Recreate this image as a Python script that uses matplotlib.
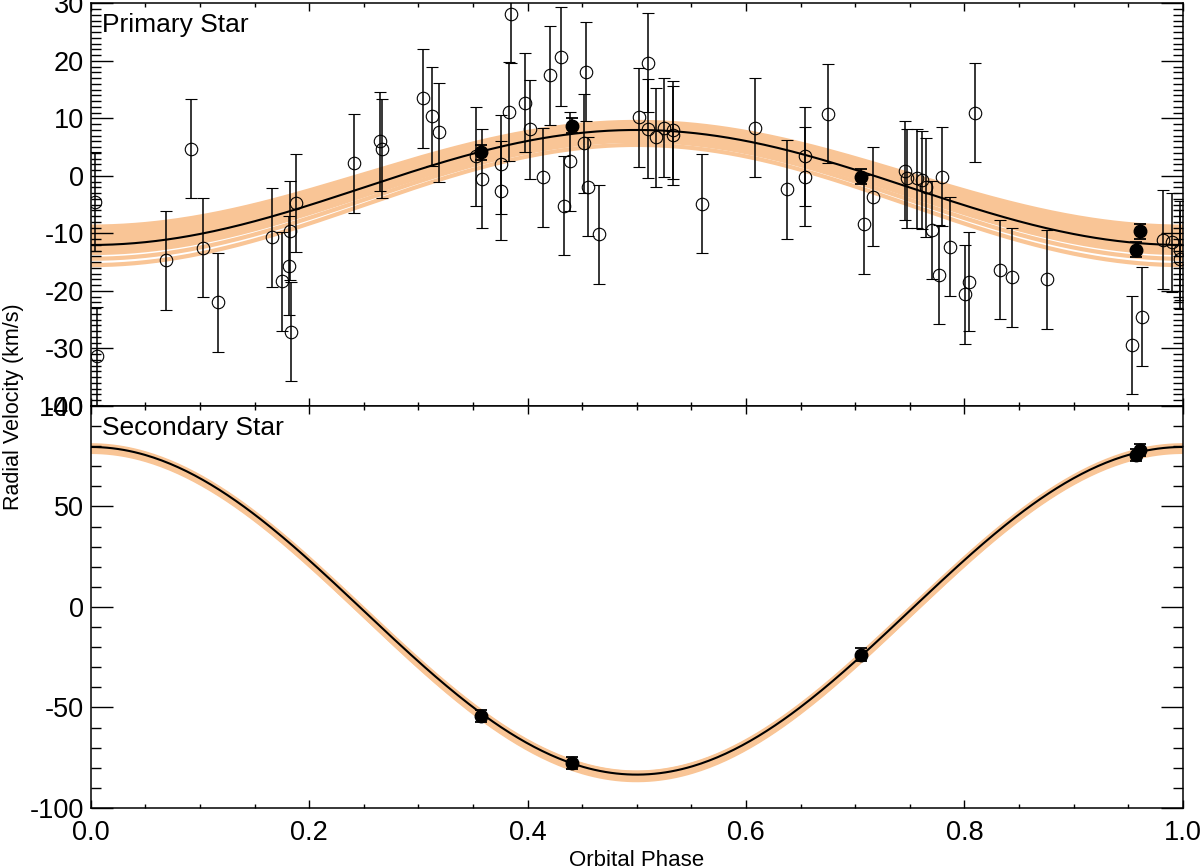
import numpy as np
import matplotlib
matplotlib.use("Agg")
import matplotlib.pyplot as plt
from matplotlib.ticker import MultipleLocator

plt.rcParams['font.family'] = ['Liberation Sans', 'DejaVu Sans']
plt.rcParams['axes.unicode_minus'] = False

# primary star, open circles (phase, rv, error)
prim_phase = [0.004, 0.006, 0.069, 0.092, 0.103, 0.117, 0.166, 0.175, 0.1825, 0.182,
              0.1834, 0.1877, 0.2414, 0.265, 0.2665, 0.3046, 0.3125, 0.319, 0.3528, 0.358,
              0.3754, 0.3754, 0.385, 0.3834, 0.3977, 0.4023, 0.4145, 0.4209, 0.431, 0.4337,
              0.439, 0.4533, 0.4517, 0.4557, 0.4655, 0.5024, 0.510, 0.510, 0.5177, 0.5253,
              0.5335, 0.5335, 0.560, 0.6086, 0.638, 0.654, 0.654, 0.6755, 0.7084, 0.7167,
              0.746, 0.7472, 0.7564, 0.761, 0.765, 0.7707, 0.7768, 0.780, 0.7866, 0.801,
              0.8046, 0.8098, 0.833, 0.844, 0.8754, 0.954, 0.9624, 0.9822, 0.9905, 0.9975,
              0.9975]
prim_rv = [-4.5, -31.3, -14.7, 4.7, -12.5, -22.0, -10.7, -18.3, -9.5, -15.6,
           -27.1, -4.7, 2.2, 6.0, 4.7, 13.5, 10.4, 7.6, 3.4, -0.5,
           2.0, -2.6, 28.2, 11.2, 12.75, 8.1, -0.2, 17.5, 20.7, -5.2,
           2.55, 18.1, 5.7, -1.9, -10.1, 10.2, 19.7, 8.2, 6.7, 8.4,
           8.0, 7.1, -4.8, 8.4, -2.3, 3.4, -0.1, 10.8, -8.4, -3.6,
           0.9, -0.4, -0.4, -0.7, -2.0, -9.4, -17.2, -0.1, -12.3, -20.6,
           -18.4, 11.0, -16.3, -17.6, -18.0, -29.4, -24.5, -11.1, -11.5, -12.9,
           -14.5]
prim_err = [8.6] * len(prim_phase)

# filled points (both stars)
fill_phase = [0.357, 0.441, 0.705, 0.957, 0.961]
fill_rv1 = [4.1, 8.75, -0.1, -12.8, -9.6]
fill_err1 = [1.3, 1.3, 1.3, 1.3, 1.3]
fill_rv2 = [-54.4, -77.6, -23.7, 75.8, 78.3]
fill_err2 = [3.0, 3.0, 3.3, 3.0, 3.0]

# best fit orbit
gamma1, k1 = -2.0, 10.0
gamma2, k2 = -1.9, 81.5

# posterior draws shown as the orange band
samp_gamma1 = [0.3, -0.15, -0.5, -0.9, -1.25, -1.65, -2.05, -2.4, -2.75, -3.1,
               -3.4, -0.8, -1.65, -1.4, -2.3, -4.15, -5.05]
samp_k1 = [9.1, 9.25, 9.4, 9.5, 9.65, 9.75, 9.85, 9.9, 9.95, 10.0,
           10.0, 8.8, 8.95, 10.6, 9.2, 10.25, 10.45]
samp_gamma2 = [-0.8, -1.4, -2.0, -2.6, -3.2, -3.8, -4.4, -1.7, -2.75, -2.15, -4.4]
samp_k2 = [81.4, 81.4, 81.4, 81.4, 81.4, 81.4, 81.4, 80.7, 80.75, 82.35, 81.9]

ph = np.linspace(0, 1, 400)
band_col = '#f9c596'

fig = plt.figure(figsize=(12, 8.66), dpi=100)
left, width = 0.0756, 0.910
ax1 = fig.add_axes([left, 0.5312, width, 0.4648])
ax2 = fig.add_axes([left, 0.0670, width, 0.4642])

for g, k in zip(samp_gamma1, samp_k1):
    ax1.plot(ph, g - k * np.cos(2 * np.pi * ph), color=band_col, lw=3.0, zorder=1)
ax1.plot(ph, gamma1 - k1 * np.cos(2 * np.pi * ph), color='black', lw=1.5, zorder=2)
ax1.errorbar(prim_phase, prim_rv, yerr=prim_err, fmt='o', mfc='none', mec='black',
             ms=9, mew=0.8, ecolor='black', elinewidth=1.1, capsize=4.5, capthick=1.1, zorder=3)
ax1.errorbar(fill_phase, fill_rv1, yerr=fill_err1, fmt='o', color='black',
             ms=9, elinewidth=1.3, capsize=4.5, capthick=1.3, zorder=4)

for g, k in zip(samp_gamma2, samp_k2):
    ax2.plot(ph, g + k * np.cos(2 * np.pi * ph), color=band_col, lw=2.6, zorder=1)
ax2.plot(ph, gamma2 + k2 * np.cos(2 * np.pi * ph), color='black', lw=1.5, zorder=2)
ax2.errorbar(fill_phase, fill_rv2, yerr=fill_err2, fmt='o', color='black',
             ms=9, elinewidth=1.3, capsize=4.5, capthick=1.3, zorder=4)

ax1.set_xlim(0, 1)
ax1.set_ylim(-40, 30)
ax2.set_xlim(0, 1)
ax2.set_ylim(-100, 100)

ax1.yaxis.set_major_locator(MultipleLocator(10))
ax1.yaxis.set_minor_locator(MultipleLocator(1))
ax2.yaxis.set_major_locator(MultipleLocator(50))
ax2.yaxis.set_minor_locator(MultipleLocator(10))
for ax in (ax1, ax2):
    ax.xaxis.set_major_locator(MultipleLocator(0.2))
    ax.xaxis.set_minor_locator(MultipleLocator(0.05))
    ax.tick_params(which='both', direction='in', top=True, right=True, width=1.0,
                   labelsize=19.5, color='black')
    ax.tick_params(axis='x', which='major', length=5.8, pad=9)
    ax.tick_params(axis='x', which='minor', length=2.9)
    ax.tick_params(axis='y', which='major', length=15.8, pad=5)
    ax.tick_params(axis='y', which='minor', length=7.5)
    for s in ax.spines.values():
        s.set_linewidth(1.1)
ax1.tick_params(axis='x', labelbottom=False)
ax2.xaxis.set_major_formatter(plt.FuncFormatter(lambda v, p: '%.1f' % v))

ax1.text(0.0105, 0.930, 'Primary Star', transform=ax1.transAxes, fontsize=19, va='baseline')
ax2.text(0.0105, 0.929, 'Secondary Star', transform=ax2.transAxes, fontsize=19, va='baseline')

fig.text(0.011, 0.530, 'Radial Velocity (km/s)', rotation=90, fontsize=15.5,
         ha='center', va='center')
fig.text(0.5306, 0.019, 'Orbital Phase', fontsize=16, ha='center', va='top')

fig.savefig('out.png', dpi=100)
